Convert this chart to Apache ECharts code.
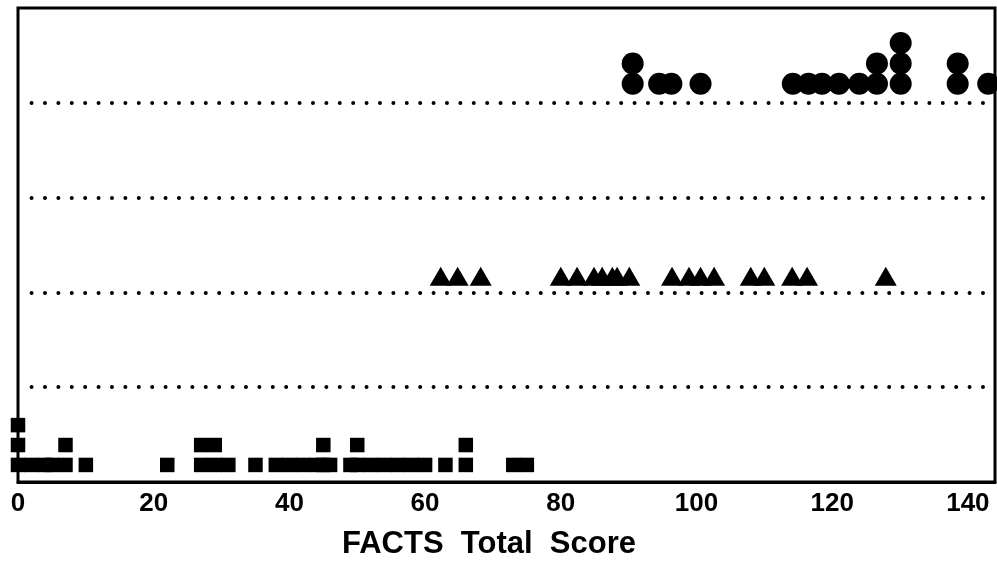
<!DOCTYPE html>
<html>
<head>
<meta charset="utf-8">
<script src="https://cdn.jsdelivr.net/npm/echarts@6/dist/echarts.min.js"></script>
<style>html,body{margin:0;padding:0;background:#fff;}#c{width:997px;height:565px;}</style>
</head>
<body>
<div id="c"></div>
<script>
// FACTS total scores per group (repeated values stack upward)
var squareScores = [0,0,0,2,4,5,7,7,10,22,27,27,29,29,31,35,38,40,42,44,45,45,46,49,50,50,52,54,56,58,60,63,66,66,73,75];
var triangleScores = [62.3,64.8,68.2,80,82.4,84.9,86.1,87.6,88.3,90.1,96.4,98.9,100.6,102.6,108,110,114.1,116.3,127.9];
var circleScores = [90.6,90.6,94.5,96.3,100.6,114.2,116.5,118.5,121,124,126.6,126.6,130.1,130.1,130.1,138.5,138.5,143];
var xTickLabels = ['0','20','40','60','80','100','120','140'];
var groupLevels = [1,2,3,4];
var axisTitle = 'FACTS  Total  Score';

function stackPoints(values, base, step) {
  var counts = {};
  return values.map(function (v) {
    var k = String(v);
    var n = counts[k] || 0;
    counts[k] = n + 1;
    return [v, base + n * step];
  });
}

var chart = echarts.init(document.getElementById('c'), null, {renderer: 'canvas'});
var dotLine = {color: '#000', width: 4, type: [0, 13.4], cap: 'round', opacity: 1};
chart.setOption({
  backgroundColor: '#fff',
  animation: false,
  grid: {left: 18, right: 2, top: 8, bottom: 83, show: true, borderColor: '#000', borderWidth: 3, backgroundColor: 'transparent'},
  xAxis: {
    type: 'value', min: 0, max: 144, interval: 20,
    axisLine: {show: true, lineStyle: {color: '#000', width: 3}},
    axisTick: {show: false},
    splitLine: {show: false},
    axisLabel: {
      color: '#000', fontSize: 26, fontWeight: 'bold', fontFamily: 'Liberation Sans, Arial, sans-serif',
      margin: 9, showMaxLabel: false,
      formatter: function (v) { var i = Math.round(v / 20); return xTickLabels[i] !== undefined ? xTickLabels[i] : ''; }
    }
  },
  yAxis: {
    type: 'value', min: 0, max: 5,
    axisLine: {show: false}, axisTick: {show: false}, axisLabel: {show: false}, splitLine: {show: false}
  },
  graphic: [{
    type: 'text', left: 342, top: 529,
    style: {text: axisTitle, fill: '#000', font: 'bold 31px "Liberation Sans", Arial, sans-serif'}
  }],
  series: [
    {
      type: 'scatter', symbol: 'rect', symbolSize: 14.5,
      itemStyle: {color: '#000', opacity: 1},
      data: stackPoints(squareScores, 0.18, 0.21),
      markLine: {
        silent: true, symbol: 'none', label: {show: false},
        lineStyle: dotLine,
        data: groupLevels.map(function (y) { return [{coord: [2, y]}, {coord: [143.5, y]}]; })
      }
    },
    {
      type: 'scatter', symbol: 'triangle', symbolSize: [22, 19],
      itemStyle: {color: '#000', opacity: 1},
      data: stackPoints(triangleScores, 2.17, 0.21)
    },
    {
      type: 'scatter', symbol: 'circle', symbolSize: 22,
      itemStyle: {color: '#000', opacity: 1},
      data: stackPoints(circleScores, 4.2, 0.215)
    }
  ]
});
</script>
</body>
</html>
